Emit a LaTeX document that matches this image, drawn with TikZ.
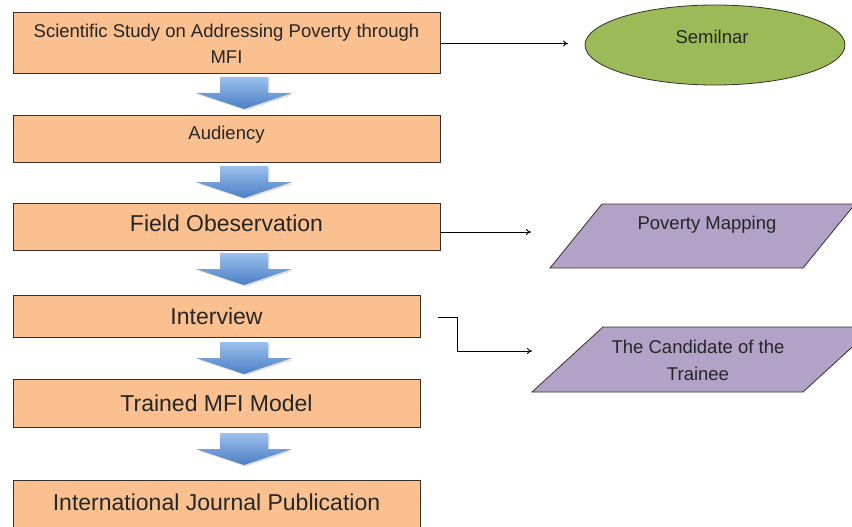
\documentclass[tikz,border=0pt]{standalone}
\usepackage{fontspec}
\setmainfont{Liberation Sans}
\usetikzlibrary{shapes.geometric,arrows.meta,calc}
\definecolor{boxfill}{HTML}{FAC090}
\definecolor{boxline}{HTML}{3A2E28}
\definecolor{ellfill}{HTML}{9BBB59}
\definecolor{parafill}{HTML}{B3A2C7}
\definecolor{txt}{HTML}{262626}
\definecolor{arrtop}{HTML}{9CC0EE}
\definecolor{arrbot}{HTML}{4A7FC4}
\tikzset{
  x=1pt, y=-1pt,
  stepbox/.style={draw=boxline, line width=1pt, fill=boxfill, text=txt, inner sep=0pt, align=center},
  big/.style={font=\fontsize{23}{27}\selectfont},
  small/.style={font=\fontsize{18.5}{27}\selectfont},
  shapeline/.style={draw=boxline, line width=0.8pt},
  conn/.style={draw=black, line width=0.8pt, -{To[length=5pt,width=6pt]}},
  lbl/.style={text=txt, align=center, inner sep=0pt}
}
\newcommand{\blockarrow}[2]{% #1 = x centre, #2 = top y
  \fill[black, opacity=0.12]
    (#1-24+1.5,#2+1.5) -- ++(48,0) -- ++(0,16) -- ++(24,0) -- ++(-48,16) -- ++(-48,-16) -- ++(24,0) -- cycle;
  \shade[top color=arrtop, bottom color=arrbot]
    (#1-24,#2) -- ++(48,0) -- ++(0,16) -- ++(24,0) -- ++(-48,16) -- ++(-48,-16) -- ++(24,0) -- cycle;
}
\begin{document}
\begin{tikzpicture}
\useasboundingbox (0,0) rectangle (852,527);
\clip (0,0) rectangle (852,527);
\fill[white] (0,0) rectangle (852,527);

% main boxes
\node[stepbox, small, minimum width=427pt, minimum height=61pt] (b1) at (226.5,43.5)
  {Scientific Study on Addressing Poverty through\\[-1pt] MFI};
\node[stepbox, small, minimum width=427pt, minimum height=47pt] (b2) at (226.5,138.5) {Audiency\rule[-12pt]{0pt}{0pt}};
\node[stepbox, big, minimum width=427pt, minimum height=47pt] (b3) at (226.5,226.5) {Field Obeservation\rule[-6pt]{0pt}{0pt}};
\node[stepbox, big, minimum width=407pt, minimum height=42pt] (b4) at (216.5,316) {Interview};
\node[stepbox, big, minimum width=407pt, minimum height=48pt] (b5) at (216.5,403) {Trained MFI Model};
\node[stepbox, big, minimum width=407pt, minimum height=70pt, anchor=north] (b6) at (216.5,480) {\rule{0pt}{30pt}International Journal Publication\rule[-40pt]{0pt}{0pt}};

% block arrows
\blockarrow{244}{77}
\blockarrow{244}{166}
\blockarrow{244}{253}
\blockarrow{244}{342}
\blockarrow{244}{433}

% ellipse
\node[ellipse, shapeline, fill=ellfill, minimum width=260pt, minimum height=80pt] (sem) at (715,45) {};
\node[lbl, small] (semt) at (712,37) {Semilnar};

% parallelograms
\filldraw[shapeline, fill=parafill] (550,268) -- (803,268) -- (855,204) -- (602,204) -- cycle;
\node[lbl, small] (pov) at (707,225) {Poverty Mapping};
\filldraw[shapeline, fill=parafill] (532,392) -- (803,392) -- (874,327) -- (603,327) -- cycle;
\node[lbl, small] (cand) at (698,360) {The Candidate of the\\Trainee};

% connectors
\coordinate (e1) at (568,43.5);
\coordinate (e2) at (531,232);
\coordinate (s3) at (438,317);
\coordinate (e3) at (532,351);
\draw[conn] (b1.east) -- (e1);
\draw[conn] (b3.east |- e2) -- (e2);
\draw[conn] (s3) -| (457,351) -- (e3);
\end{tikzpicture}
\end{document}
